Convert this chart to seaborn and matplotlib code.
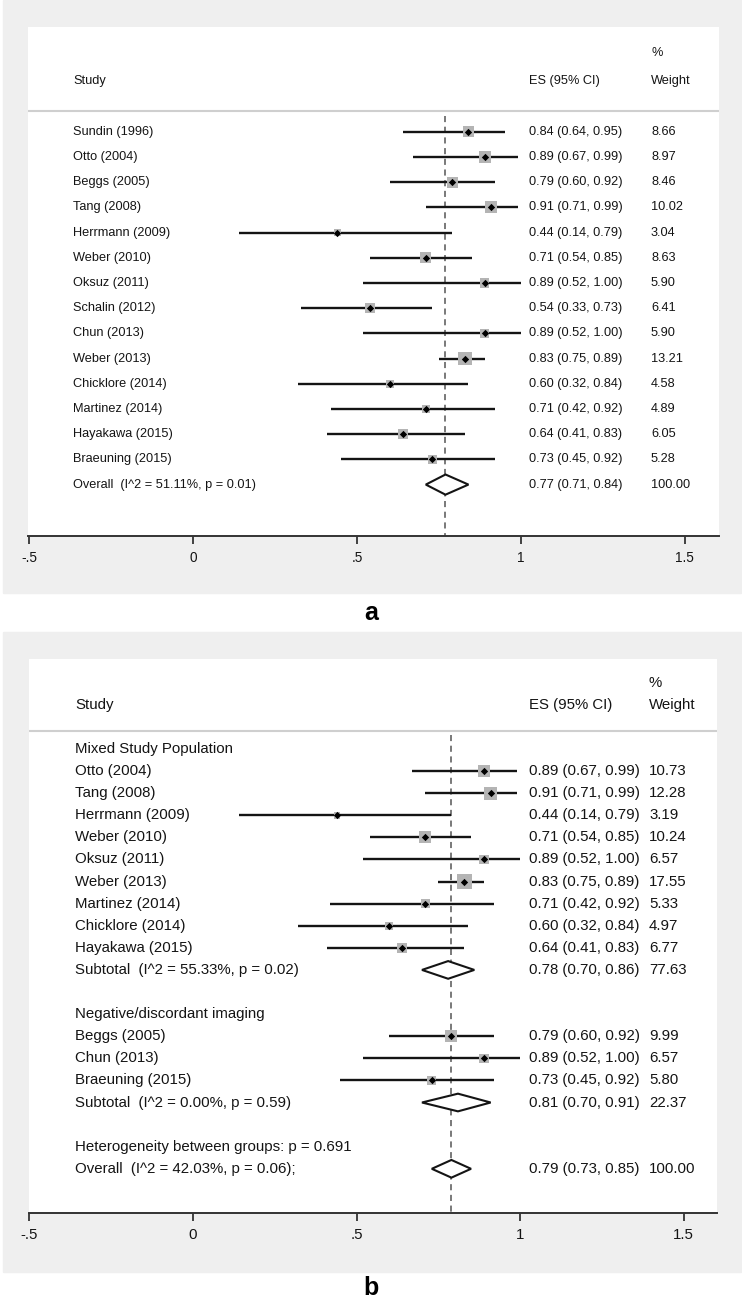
import matplotlib
matplotlib.use("Agg")
import matplotlib.pyplot as plt
import matplotlib.transforms as mtrans
from matplotlib.patches import Rectangle, Polygon
import seaborn as sns
import pandas as pd

# ---------------- data: panel a ----------------
studies_a = ["Sundin (1996)", "Otto (2004)", "Beggs (2005)", "Tang (2008)",
             "Herrmann (2009)", "Weber (2010)", "Oksuz (2011)", "Schalin (2012)",
             "Chun (2013)", "Weber (2013)", "Chicklore (2014)", "Martinez (2014)",
             "Hayakawa (2015)", "Braeuning (2015)"]
es_a = [0.84, 0.89, 0.79, 0.91, 0.44, 0.71, 0.89, 0.54, 0.89, 0.83, 0.60, 0.71, 0.64, 0.73]
lo_a = [0.64, 0.67, 0.60, 0.71, 0.14, 0.54, 0.52, 0.33, 0.52, 0.75, 0.32, 0.42, 0.41, 0.45]
hi_a = [0.95, 0.99, 0.92, 0.99, 0.79, 0.85, 1.00, 0.73, 1.00, 0.89, 0.84, 0.92, 0.83, 0.92]
w_a = [8.66, 8.97, 8.46, 10.02, 3.04, 8.63, 5.90, 6.41, 5.90, 13.21, 4.58, 4.89, 6.05, 5.28]
pooled_label_a = ["Overall  (I^2 = 51.11%, p = 0.01)"]
pooled_es_a = [0.77]
pooled_lo_a = [0.71]
pooled_hi_a = [0.84]
pooled_w_a = [100.00]

# ---------------- data: panel b ----------------
group1_title = "Mixed Study Population"
studies_b1 = ["Otto (2004)", "Tang (2008)", "Herrmann (2009)", "Weber (2010)",
              "Oksuz (2011)", "Weber (2013)", "Martinez (2014)", "Chicklore (2014)",
              "Hayakawa (2015)"]
es_b1 = [0.89, 0.91, 0.44, 0.71, 0.89, 0.83, 0.71, 0.60, 0.64]
lo_b1 = [0.67, 0.71, 0.14, 0.54, 0.52, 0.75, 0.42, 0.32, 0.41]
hi_b1 = [0.99, 0.99, 0.79, 0.85, 1.00, 0.89, 0.92, 0.84, 0.83]
w_b1 = [10.73, 12.28, 3.19, 10.24, 6.57, 17.55, 5.33, 4.97, 6.77]
sub1_label = "Subtotal  (I^2 = 55.33%, p = 0.02)"
sub1 = (0.78, 0.70, 0.86, 77.63)

group2_title = "Negative/discordant imaging"
studies_b2 = ["Beggs (2005)", "Chun (2013)", "Braeuning (2015)"]
es_b2 = [0.79, 0.89, 0.73]
lo_b2 = [0.60, 0.52, 0.45]
hi_b2 = [0.92, 1.00, 0.92]
w_b2 = [9.99, 6.57, 5.80]
sub2_label = "Subtotal  (I^2 = 0.00%, p = 0.59)"
sub2 = (0.81, 0.70, 0.91, 22.37)

het_label = "Heterogeneity between groups: p = 0.691"
overall_b_label = "Overall  (I^2 = 42.03%, p = 0.06);"
overall_b = (0.79, 0.73, 0.85, 100.00)

xticks = [-0.5, 0, 0.5, 1, 1.5]
xticklabels = ["-.5", "0", ".5", "1", "1.5"]

# ---------------- figure ----------------
sns.set_theme(style="white")
plt.rcParams['font.family'] = ['Liberation Sans', 'DejaVu Sans']

W, H = 742, 1302
fig = plt.figure(figsize=(W / 100, H / 100), dpi=100)
fig.patch.set_facecolor("white")

BG = "#efefef"
SQ = "#b4b4b4"
INK = "#141414"


def px_rect(l, t, r, b):
    return [l / W, 1 - b / H, (r - l) / W, (b - t) / H]


def gray_box(t, b):
    fig.add_artist(Rectangle((3 / W, 1 - b / H), (741 - 3) / W, (b - t) / H,
                             transform=fig.transFigure, color=BG, zorder=0))


def ci_text(e, l, h):
    return f"{e:.2f} ({l:.2f}, {h:.2f})"


def draw_panel(ax, rows, pooled, headers, ref, sep_y, xcols, font, fsize, tsize,
               sq_k, ylim, xlim):
    ax.set_facecolor("white")
    tr = mtrans.blended_transform_factory(ax.transAxes, ax.transData)
    xn, xe, xw = xcols
    txt = dict(transform=tr, va="center", ha="left", fontsize=fsize,
               family=font, color=INK)

    # separator and reference line
    ax.axhline(sep_y, color="#cfcfcf", lw=1.5, zorder=1)
    ax.vlines(ref, sep_y + 0.2, ylim[0], colors="#555555", linestyles=(0, (4, 3)),
              lw=1.1, zorder=2)

    # CI lines
    ax.hlines(rows["row"], rows["lo"], rows["hi"], colors=INK, lw=1.7, zorder=3)
    # weight squares
    sns.scatterplot(data=rows, x="es", y="row", marker="s", color=SQ,
                    s=rows["w"] * sq_k, linewidth=0, ax=ax, legend=False, zorder=4)
    # point estimates
    sns.scatterplot(data=rows, x="es", y="row", marker="D", color="black",
                    s=14, linewidth=0, ax=ax, legend=False, zorder=5)

    # pooled diamonds
    for _, p in pooled.iterrows():
        ax.add_patch(Polygon([(p["lo"], p["row"]), (p["es"], p["row"] - 0.4),
                              (p["hi"], p["row"]), (p["es"], p["row"] + 0.4)],
                             closed=True, facecolor="white", edgecolor=INK,
                             lw=1.5, zorder=6))

    # text columns
    for df in (rows, pooled):
        for _, r in df.iterrows():
            ax.text(xn, r["row"], r["label"], **txt)
            ax.text(xe, r["row"], ci_text(r["es"], r["lo"], r["hi"]), **txt)
            ax.text(xw, r["row"], f"{r['w']:.2f}", **txt)
    for lab, rr in headers:
        ax.text(xn, rr, lab, **txt)

    ax.set_xlim(*xlim)
    ax.set_ylim(*ylim)
    ax.set_xlabel("")
    ax.set_ylabel("")
    ax.set_yticks([])
    ax.set_xticks(xticks)
    ax.set_xticklabels(xticklabels, family=font, color=INK)
    ax.tick_params(axis="x", bottom=True, direction="out", length=6, width=1.3,
                   color="#333333", pad=5, labelsize=tsize)
    for s in ("top", "left", "right"):
        ax.spines[s].set_visible(False)
    ax.spines["bottom"].set_color("#333333")
    ax.spines["bottom"].set_linewidth(1.4)


# ---------------- panel a ----------------
gray_box(0, 593)
axa = fig.add_axes(px_rect(28, 27, 719, 536))
rows_a = pd.DataFrame({"label": studies_a, "es": es_a, "lo": lo_a, "hi": hi_a,
                       "w": w_a, "row": range(len(studies_a))})
pooled_a = pd.DataFrame({"label": pooled_label_a, "es": pooled_es_a, "lo": pooled_lo_a,
                         "hi": pooled_hi_a, "w": pooled_w_a, "row": [len(studies_a)]})
font_a = ["Liberation Sans", "DejaVu Sans"]
wa = 719 - 28
FA = 9.2
draw_panel(axa, rows_a, pooled_a, [], pooled_es_a[0], -0.82,
           ((73 - 28) / wa, (529 - 28) / wa, (651 - 28) / wa),
           font_a, FA, 9.8, 7.5, (16.04, -4.155), (-0.503, 1.604))
tra = mtrans.blended_transform_factory(axa.transAxes, axa.transData)
for lab, xc, rr in (("Study", (73 - 28) / wa, -2.01), ("ES (95% CI)", (529 - 28) / wa, -2.01),
                    ("%", (651 - 28) / wa, -3.12), ("Weight", (651 - 28) / wa, -2.01)):
    axa.text(xc, rr, lab, transform=tra, va="center", ha="left", fontsize=FA,
             family=font_a, color=INK)
fig.text(371 / W, 1 - 613 / H, "a", ha="center", va="center", fontsize=18,
         fontweight="bold", color="black")

# ---------------- panel b ----------------
gray_box(632, 1272)
axb = fig.add_axes(px_rect(29, 659, 717, 1213))
n1, n2 = len(studies_b1), len(studies_b2)
r1 = list(range(1, 1 + n1))
r2 = list(range(n1 + 4, n1 + 4 + n2))
rows_b = pd.DataFrame({"label": studies_b1 + studies_b2, "es": es_b1 + es_b2,
                       "lo": lo_b1 + lo_b2, "hi": hi_b1 + hi_b2,
                       "w": w_b1 + w_b2, "row": r1 + r2})
pooled_b = pd.DataFrame({"label": [sub1_label, sub2_label, overall_b_label],
                         "es": [sub1[0], sub2[0], overall_b[0]],
                         "lo": [sub1[1], sub2[1], overall_b[1]],
                         "hi": [sub1[2], sub2[2], overall_b[2]],
                         "w": [sub1[3], sub2[3], overall_b[3]],
                         "row": [n1 + 1, r2[-1] + 1, r2[-1] + 4]})
headers_b = [(group1_title, 0), (group2_title, n1 + 3), (het_label, r2[-1] + 3)]
font_b = ["Liberation Sans", "DejaVu Sans"]
wb = 717 - 29
FB = 10.8
draw_panel(axb, rows_b, pooled_b, headers_b, overall_b[0], -0.81,
           ((75 - 29) / wb, (529 - 29) / wb, (649 - 29) / wb),
           font_b, FB, 10.8, 7.3, (21.0, -4.07), (-0.5015, 1.602))
trb = mtrans.blended_transform_factory(axb.transAxes, axb.transData)
for lab, xc, rr in (("Study", (75 - 29) / wb, -1.99), ("ES (95% CI)", (529 - 29) / wb, -1.99),
                    ("%", (649 - 29) / wb, -2.99), ("Weight", (649 - 29) / wb, -1.99)):
    axb.text(xc, rr, lab, transform=trb, va="center", ha="left", fontsize=FB,
             family=font_b, color=INK)
fig.text(371 / W, 1 - 1288 / H, "b", ha="center", va="center", fontsize=18,
         fontweight="bold", color="black")

fig.savefig("out.png", dpi=100, facecolor="white")
